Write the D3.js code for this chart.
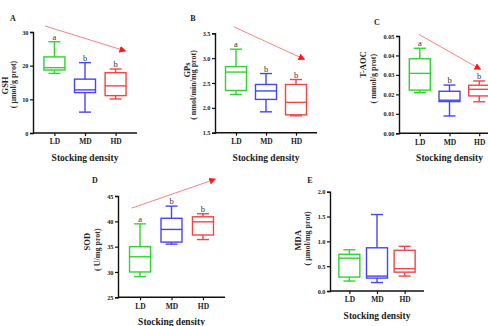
<!DOCTYPE html>
<html>
<head>
<meta charset="utf-8">
<script src="https://cdn.jsdelivr.net/npm/d3@7/dist/d3.min.js"></script>
<style>
    body { margin: 0; background: #fff; }
    svg { display: block; font-family: "Liberation Serif", "Times New Roman", serif; }
</style>
</head>
<body>
<svg id="chart" width="488" height="326"></svg>
<script>
// groups on the x axis, same for every panel
const groups = ["LD", "MD", "HD"];
const groupColors = ["#2fd42f", "#4646f0", "#f04646"];

// box stats per group: [min, q1, median, q3, max]
const gshStats = [[17.7, 18.7, 19.4, 22.6, 27.1], [6.2, 12.0, 12.8, 16.0, 20.9], [10.1, 11.1, 14.0, 17.9, 19.0]];
const gpxStats = [[2.27, 2.35, 2.72, 2.83, 3.18], [1.92, 2.17, 2.34, 2.47, 2.69], [1.84, 1.86, 2.11, 2.47, 2.57]];
const taocStats = [[0.0209, 0.0222, 0.0308, 0.0383, 0.0437], [0.0089, 0.0163, 0.0170, 0.0216, 0.0248], [0.0162, 0.0192, 0.0226, 0.0247, 0.0269]];
const sodStats = [[29.1, 30.0, 33.0, 35.0, 39.5], [35.5, 35.9, 38.4, 40.6, 43.0], [36.4, 37.3, 39.9, 40.9, 41.5]];
const mdaStats = [[0.20, 0.28, 0.66, 0.74, 0.83], [0.17, 0.26, 0.30, 0.87, 1.54], [0.30, 0.38, 0.45, 0.82, 0.90]];

// significance letters
const gshLetters = ["a", "b", "b"];
const gpxLetters = ["a", "b", "b"];
const taocLetters = ["a", "b", "b"];
const sodLetters = ["a", "b", "b"];
const mdaLetters = ["", "", ""];

// trend arrows: [group index, value] start -> end
const gshArrow = [[-0.31, 31.8], [2.31, 24.4]];
const gpxArrow = [[-0.07, 3.63], [2.27, 2.98]];
const taocArrow = [[-0.03, 0.0508], [2.03, 0.033]];
const sodArrow = [[-0.27, 42.6], [2.38, 48.3]];

// y tick values
const gshTicks = [0, 10, 20, 30];
const gpxTicks = [1.5, 2.0, 2.5, 3.0, 3.5];
const taocTicks = [0, 0.01, 0.02, 0.03, 0.04, 0.05];
const sodTicks = [25, 30, 35, 40, 45];
const mdaTicks = [0, 0.5, 1.0, 1.5, 2.0];

// panel layout (pixels)
const panels = [
    {id: "A", stats: gshStats, letters: gshLetters, arrow: gshArrow, ticks: gshTicks, fmt: d3.format("d"),
     title: "GSH", unit: "( μmol/g prot)", x0: 33, x1: 137, top: 32, bottom: 133,
     titleDx: -28, titleDy: 3, unitDx: -20, unitDy: 2, labelX: 13, labelY: 18},
    {id: "B", stats: gpxStats, letters: gpxLetters, arrow: gpxArrow, ticks: gpxTicks, fmt: d3.format(".1f"),
     title: "GPs", unit: "( nmol/min/mg prot)", x0: 215, x1: 317, top: 33.3, bottom: 132.7,
     titleDx: -28, titleDy: -13, unitDx: -22, unitDy: 2, labelX: 193, labelY: 18},
    {id: "C", stats: taocStats, letters: taocLetters, arrow: taocArrow, ticks: taocTicks, fmt: d3.format(".2f"),
     title: "T-AOC", unit: "( mmol/g prot)", x0: 399, x1: 500, top: 36, bottom: 133.3,
     titleDx: -36, titleDy: -20, unitDx: -26, unitDy: -6, labelX: 377, labelY: 22},
    {id: "D", stats: sodStats, letters: sodLetters, arrow: sodArrow, ticks: sodTicks, fmt: d3.format("d"),
     title: "SOD", unit: "( U/mg prot)", x0: 118, x1: 225, top: 196, bottom: 297.3,
     titleDx: -31, titleDy: -5, unitDx: -21, unitDy: 3, labelX: 95, labelY: 180},
    {id: "E", stats: mdaStats, letters: mdaLetters, arrow: null, ticks: mdaTicks, fmt: d3.format(".1f"),
     title: "MDA", unit: "( μmol/mg prot)", x0: 330, x1: 424, top: 191.7, bottom: 291,
     titleDx: -32, titleDy: -1, unitDx: -23, unitDy: -3, labelX: 310, labelY: 180}
];

const svg = d3.select("#chart");

svg.append("defs").append("marker")
    .attr("id", "head")
    .attr("viewBox", "0 0 10 10")
    .attr("refX", 8).attr("refY", 5)
    .attr("markerWidth", 7).attr("markerHeight", 7)
    .attr("markerUnits", "userSpaceOnUse")
    .attr("orient", "auto")
    .append("path")
    .attr("d", "M0,0L10,5L0,10Z")
    .attr("fill", "#ff1a1a");

function drawPanel(p){
    var g = svg.append("g");

    var x = d3.scalePoint().domain(groups).range([p.x0, p.x1]).padding(0.7);
    var y = d3.scaleLinear().domain(d3.extent(p.ticks)).range([p.bottom, p.top]);
    var xi = function(i){ return x(groups[0]) + i * x.step(); };

    // y axis
    var ya = g.append("g")
        .attr("transform", "translate(" + p.x0 + ",0)")
        .call(d3.axisLeft(y).tickValues(p.ticks).tickFormat(p.fmt).tickSizeOuter(0).tickSize(3).tickPadding(1.5));
    // x axis
    var xa = g.append("g")
        .attr("transform", "translate(0," + p.bottom + ")")
        .call(d3.axisBottom(x).tickSizeOuter(0).tickSize(3).tickPadding(3));
    xa.select(".domain").attr("d", "M" + p.x0 + ",0H" + p.x1);

    [ya, xa].forEach(function(a){
        a.select(".domain").attr("stroke", "#111").attr("stroke-width", 1.4);
        a.selectAll(".tick line").attr("stroke", "#111").attr("stroke-width", 1.2);
        a.selectAll(".tick text").attr("fill", "#222").attr("font-weight", "bold")
            .attr("font-family", "Liberation Serif, serif");
    });
    ya.selectAll(".tick text").attr("font-size", 6.3);
    xa.selectAll(".tick text").attr("font-size", 7.5);

    // boxes
    var boxW = 21, capW = 12;
    p.stats.forEach(function(s, i){
        var cx = x(groups[i]);
        var c = groupColors[i];
        var bg = g.append("g").attr("stroke", c).attr("stroke-width", 1.4).attr("fill", "none");
        bg.append("line").attr("x1", cx).attr("x2", cx).attr("y1", y(s[0])).attr("y2", y(s[1]));
        bg.append("line").attr("x1", cx).attr("x2", cx).attr("y1", y(s[3])).attr("y2", y(s[4]));
        bg.append("line").attr("x1", cx - capW / 2).attr("x2", cx + capW / 2).attr("y1", y(s[0])).attr("y2", y(s[0]));
        bg.append("line").attr("x1", cx - capW / 2).attr("x2", cx + capW / 2).attr("y1", y(s[4])).attr("y2", y(s[4]));
        bg.append("rect").attr("x", cx - boxW / 2).attr("width", boxW)
            .attr("y", y(s[3])).attr("height", y(s[1]) - y(s[3]));
        bg.append("line").attr("x1", cx - boxW / 2).attr("x2", cx + boxW / 2).attr("y1", y(s[2])).attr("y2", y(s[2]));

        if(p.letters[i]){
            g.append("text").attr("x", cx).attr("y", y(s[4]) - 1.8)
                .attr("text-anchor", "middle").attr("font-size", 8.5).attr("fill", "#333")
                .text(p.letters[i]);
        }
    });

    // trend arrow
    if(p.arrow){
        g.append("line")
            .attr("x1", xi(p.arrow[0][0])).attr("y1", y(p.arrow[0][1]))
            .attr("x2", xi(p.arrow[1][0])).attr("y2", y(p.arrow[1][1]))
            .attr("stroke", "#ff8080").attr("stroke-width", 1)
            .attr("marker-end", "url(#head)");
    }

    // y titles
    var midY = (p.top + p.bottom) / 2;
    g.append("text")
        .attr("transform", "translate(" + (p.x0 + p.titleDx) + "," + (midY + p.titleDy) + ") rotate(-90)")
        .attr("text-anchor", "middle").attr("dy", "0.35em")
        .attr("font-size", 8.5).attr("font-weight", "bold").attr("fill", "#222")
        .text(p.title);
    g.append("text")
        .attr("transform", "translate(" + (p.x0 + p.unitDx) + "," + (midY + p.unitDy) + ") rotate(-90)")
        .attr("text-anchor", "middle").attr("dy", "0.35em")
        .attr("font-size", 8).attr("font-weight", "bold").attr("fill", "#333")
        .text(p.unit);

    // x title
    g.append("text")
        .attr("x", x(groups[1])).attr("y", p.bottom + 28)
        .attr("text-anchor", "middle")
        .attr("font-size", 9.5).attr("font-weight", "bold").attr("fill", "#222")
        .text("Stocking density");

    // panel letter
    g.append("text")
        .attr("x", p.labelX).attr("y", p.labelY).attr("dy", "0.35em")
        .attr("text-anchor", "middle")
        .attr("font-size", 8).attr("font-weight", "bold").attr("fill", "#222")
        .text(p.id);
}

panels.forEach(drawPanel);
</script>
</body>
</html>
